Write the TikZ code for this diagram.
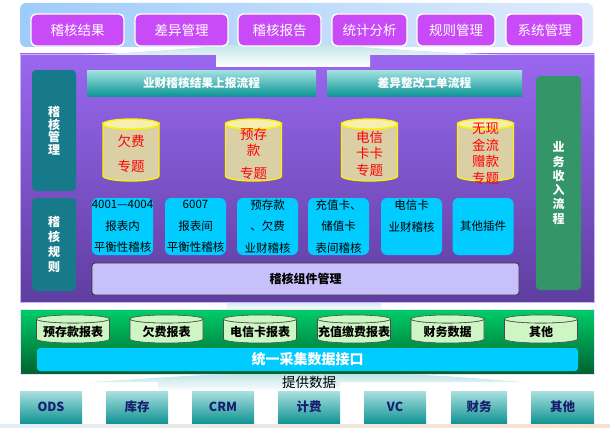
\documentclass[tikz,border=0pt]{standalone}
\usepackage{fontspec}
\setmainfont{Noto Sans CJK SC}
\usetikzlibrary{positioning}

\definecolor{topleft}{RGB}{158,204,250}
\definecolor{topright}{RGB}{224,235,252}
\definecolor{btnpurple}{RGB}{201,74,247}
\definecolor{purpletop}{RGB}{154,104,240}
\definecolor{purplebottom}{RGB}{94,62,160}
\definecolor{purpleedge}{RGB}{200,180,250}
\definecolor{sideteal}{RGB}{22,122,138}
\definecolor{sidegreen}{RGB}{52,150,104}
\definecolor{bartop}{RGB}{164,226,226}
\definecolor{barbottom}{RGB}{14,150,150}
\definecolor{tanbody}{RGB}{219,207,166}
\definecolor{tantop}{RGB}{246,240,176}
\definecolor{cyanbox}{RGB}{0,204,255}
\definecolor{lavender}{RGB}{200,192,250}
\definecolor{greentop}{RGB}{0,206,104}
\definecolor{greenbottom}{RGB}{0,98,48}
\definecolor{palegreen}{RGB}{206,246,196}
\definecolor{navy}{RGB}{24,30,110}
\definecolor{boxtop}{RGB}{170,224,224}
\definecolor{boxbottom}{RGB}{18,148,148}
\definecolor{fadeteal}{RGB}{190,228,230}
\definecolor{bandblue}{RGB}{226,237,247}
\definecolor{bandorange}{RGB}{252,224,204}

\begin{document}
\begin{tikzpicture}[x=1pt, y=-1pt,
  btn/.style={draw=white, line width=1.4pt, fill=btnpurple, rounded corners=5pt, minimum height=32pt, text=white, font=\fontsize{13.5}{14}\selectfont},
  side/.style={fill=sideteal, rounded corners=4pt, text=white, align=center, minimum width=44pt},
  bar/.style={top color=bartop, bottom color=barbottom, minimum height=26pt, text=white, font=\bfseries\fontsize{11.7}{12}\selectfont},
  drum/.style={draw=yellow, line width=1.3pt},
  cyltxt/.style={text=red, align=center, font=\fontsize{13.5}{16.5}\selectfont},
  rule/.style={fill=cyanbox, rounded corners=6pt, minimum width=61pt, minimum height=57pt, align=center, inner sep=0pt, font=\fontsize{11.5}{21.5}\selectfont},
  srcdrum/.style={draw=black!70, line width=0.6pt, fill=palegreen},
  srctxt/.style={font=\bfseries\fontsize{12}{12}\selectfont},
  sys/.style={top color=boxtop, bottom color=boxbottom, minimum height=32pt, text=navy, font=\bfseries\fontsize{12.5}{13}\selectfont},
  fade/.style={top color=fadeteal, bottom color=white}]
  \useasboundingbox (0,0) rectangle (610,428);

  \shade[left color=bandblue, right color=bandorange] (0,424) rectangle (610,428);
  \shade[fade] (227,296) rectangle (381,312);

  \node[left color=topleft, right color=topright, rounded corners=6pt, minimum width=573pt, minimum height=44pt] (top) at (306.5,25) {};
  \node[top color=purpletop, bottom color=purplebottom, draw=purpleedge, minimum width=574pt, minimum height=248pt] (main) at (307,178) {};
  \node[top color=greentop, bottom color=greenbottom, draw=purpleedge!40, minimum width=574pt, minimum height=65pt] (data) at (307,341.5) {};

  \shade[fade] (78,55) .. controls (200,50) and (225,43) .. (280,43) .. controls (335,43) and (370,50) .. (508,55)
    -- (370,55) -- (370,67) -- (216,67) -- (216,55) -- cycle;
  \shade[fade] (90,382) .. controls (160,378) and (200,374) .. (250,374) -- (380,374) .. controls (430,374) and (470,378) .. (524,382)
    -- (340,382) -- (340,391) -- (158,391) -- (158,382) -- cycle;

  \foreach \x/\w/\t [count=\i] in {77.5/93/稽核结果, 181.5/93/差异管理, 279.5/83/稽核报告, 369.5/75/统计分析, 456/78/规则管理, 544.5/77/系统管理}
    \node[btn, minimum width=\w] (b\i) at (\x,30) {\t};

  \node[side, minimum height=121pt, font=\bfseries\fontsize{12}{12.5}\selectfont] (mgr) at (54,130.5) {稽\\核\\管\\理};
  \node[side, minimum height=93pt, font=\bfseries\fontsize{12}{15}\selectfont] (rules) at (54,244.5) {稽\\核\\规\\则};
  \node[side, fill=sidegreen, minimum width=45pt, minimum height=214pt, font=\bfseries\fontsize{12}{14.3}\selectfont] (flow) at (558.5,183) {业\\务\\收\\入\\流\\程};

  \node[bar, minimum width=229pt] (h1) at (201.5,83) {业财稽核结果上报流程};
  \node[bar, minimum width=195pt] (h2) at (424.5,83) {差异整改工单流程};

  % topic drums
  \foreach \x/\t [count=\i] in {131/{欠费\\[8.5pt]专题}, 253.5/{预存\\款\\[6pt]专题}, 369.5/{电信\\卡卡\\专题}, 485.5/{无现\\金流\\赠款\\专题}} {
    \draw[drum, fill=tanbody] (\x-28,124) -- (\x-28,176) arc[start angle=180, end angle=0, x radius=28, y radius=5]
      -- (\x+28,124) arc[start angle=0, end angle=180, x radius=28, y radius=5] -- cycle;
    \draw[drum, fill=tantop] (\x,124) ellipse[x radius=28, y radius=5];
    \node[cyltxt] (c\i) at (\x,153.5) {\t};
  }

  \foreach \x/\t [count=\i] in {122.5/{4001—4004\\报表内\\平衡性稽核}, 195.5/{6007\\报表间\\平衡性稽核}, 267.5/{预存款\\、欠费\\业财稽核}, 338.5/{充值卡、\\储值卡\\表间稽核}, 411.5/{电信卡\\业财稽核\\~}, 483/{其他插件}}
    \node[rule] (r\i) at (\x,226.5) {\t};

  \node[fill=lavender, draw=black!80, line width=0.8pt, rounded corners=3pt, minimum width=427pt, minimum height=32pt, font=\bfseries\fontsize{12}{12}\selectfont] (comp) at (305.5,279) {稽核组件管理};

  % report drums
  \foreach \x/\t [count=\i] in {73/预存款报表, 166.5/欠费报表, 260/电信卡报表, 354/充值缴费报表, 447.5/财务数据, 541/其他} {
    \draw[srcdrum] (\x-36.5,319) -- (\x-36.5,339) arc[start angle=180, end angle=0, x radius=36.5, y radius=4]
      -- (\x+36.5,319) arc[start angle=0, end angle=180, x radius=36.5, y radius=4] -- cycle;
    \draw[srcdrum] (\x,319) ellipse[x radius=36.5, y radius=4];
    \node[srctxt] (s\i) at (\x,332) {\t};
  }

  \node[fill=cyanbox, rounded corners=3pt, minimum width=541pt, minimum height=23pt, text=white, font=\bfseries\fontsize{14}{14}\selectfont] (api) at (307.5,359.5) {统一采集数据接口};
  \node[font=\fontsize{13.5}{14}\selectfont] (feed) at (309,382) {提供数据};

  \foreach \x/\w/\t [count=\i] in {51/62/ODS, 137/62/库存, 223/62/CRM, 309/62/计费, 395/62/VC, 479/56/财务, 562.5/63/其他}
    \node[sys, minimum width=\w] (o\i) at (\x,407) {\t};
\end{tikzpicture}
\end{document}
